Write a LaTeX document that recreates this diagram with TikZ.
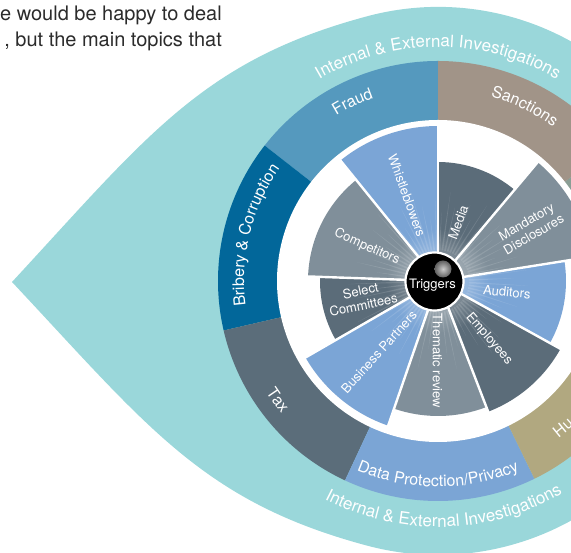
\documentclass[tikz,border=0pt]{standalone}
\usepackage{fontspec}
\setmainfont{TeX Gyre Heros}
\usetikzlibrary{decorations.text,fadings,calc}
\definecolor{tealC}{HTML}{9AD7DA}
\definecolor{fraudC}{HTML}{5599BE}
\definecolor{sanctC}{HTML}{A19488}
\definecolor{bribC}{HTML}{02679A}
\definecolor{taxC}{HTML}{5B6D7A}
\definecolor{dataC}{HTML}{7BA5D5}
\definecolor{khakiC}{HTML}{B1A880}
\definecolor{greenC}{HTML}{8A9E95}
\definecolor{rblue}{HTML}{7BA5D6}
\definecolor{rslate}{HTML}{5B6C79}
\definecolor{rgrey}{HTML}{808F9A}
\definecolor{bodytext}{HTML}{2B2B2B}
\tikzfading[name=glowfade, inner color=transparent!0, outer color=transparent!100]
\newcommand{\mysector}[4]{\fill[#1] (O) -- ++(#2:#4) arc[start angle=#2, end angle=#3, radius=#4] -- cycle;}
\tikzset{
  arctext/.style={decorate, decoration={text along path, text align=center, text={|\fontsize{16}{16}\selectfont\color{white}|#1}}},
  bigarctext/.style={decorate, decoration={text along path, text align=center, text={|\fontsize{17}{17}\selectfont\color{white}|#1}}},
  leftarctext/.style={decorate, decoration={text along path, text align=left, text={|\fontsize{16}{16}\selectfont\color{white}|#1}}},
  rosetext/.style={text=white, font=\fontsize{13}{14.5}\selectfont, align=center, inner sep=0pt},
  sepline/.style={white, line width=2.4pt},
  bodyline/.style={anchor=base east, text=bodytext, font=\fontsize{20}{24}\selectfont, inner sep=0pt}
}
\begin{document}
\begin{tikzpicture}[x=1pt,y=1pt]
\useasboundingbox (0,0) rectangle (571,553);
\coordinate (O) at (438,272);
\coordinate (tip) at (12,271);
% teal teardrop
\fill[tealC] (tip) .. controls (148,418) and (202.9,492.7) .. (367.1,536.7)
  arc[start angle=105, end angle=-105, radius=274]
  .. controls (202.9,51.3) and (148,126) .. (tip) -- cycle;
% topic ring
\mysector{fraudC}{90}{142}{220}
\mysector{bribC}{142}{193}{220}
\mysector{taxC}{193}{245}{220}
\mysector{dataC}{245}{296}{220}
\mysector{khakiC}{296}{360}{220}
\mysector{greenC}{0}{38}{220}
\mysector{sanctC}{38}{90}{220}
\fill[white] (O) circle (161);
% rose
\mysector{rblue}{90}{129}{155}
\mysector{rslate}{50}{90}{119}
\mysector{rgrey}{9}{50}{155}
\mysector{rblue}{-29}{9}{128}
\mysector{rslate}{-69}{-29}{140}
\mysector{rgrey}{-109}{-69}{135}
\mysector{rblue}{-150}{-109}{153}
\mysector{rslate}{-182}{-150}{118}
\mysector{rgrey}{129}{178}{130}
% rays
\foreach \a [count=\i] in {2,7,...,357} {
  \pgfmathsetmacro{\L}{62+28*mod(\i*7,5)/4}
  \fill[white, opacity=0.13] ($(O)+(\a-1.6:31)$) -- ($(O)+(\a:\L)$) -- ($(O)+(\a+1.6:31)$) -- cycle;
}
\fill[white, opacity=0.45, path fading=glowfade] (O) circle (52);
\foreach \a in {90,50,9,-29,-69,-109,-150,178,129} \draw[sepline] (O) -- ++(\a:160);
% centre
\node[circle, fill=black, draw=white, line width=2.2pt, minimum size=58pt, inner sep=0pt] (trig) at (434.5,271.5) {};
\shade[inner color=gray!40, outer color=gray!75!black] (443,284) circle (8.5);
\node[text=white, font=\fontsize{13}{13}\selectfont, inner sep=0pt] (trigtext) at (432.5,267.5) {Triggers};
% rose labels
\node[rosetext, rotate=-70] (wb) at (406.9,357.5) {Whistleblowers};
\node[rosetext, rotate=70] (media) at (458.2,330.6) {Media};
\node[rosetext, rotate=30] (mand) at (530,325) {Mandatory\\Disclosures};
\node[rosetext, rotate=-6] (aud) at (507,261) {Auditors};
\node[rosetext, rotate=-49] (emp) at (489,214) {Employees};
\node[rosetext, rotate=-90] (them) at (437.5,192) {Thematic review};
\node[rosetext, rotate=48] (bp) at (379,201) {Business Partners};
\node[rosetext, rotate=12] (sel) at (362,255) {Select\\Committees};
\node[rosetext, rotate=-24] (comp) at (367,306) {Competitors};
% ring labels
\path[bigarctext={Internal {\&} External Investigations}] ($(O)+(150:234)$) arc[start angle=150, end angle=30, radius=234];
\path[bigarctext={Internal {\&} External Investigations}] ($(O)+(211.5:246)$) arc[start angle=211.5, end angle=331.5, radius=246];
\path[arctext={Fraud}] ($(O)+(145.5:194)$) arc[start angle=145.5, end angle=85.5, radius=194];
\path[arctext={Sanctions}] ($(O)+(93.6:192)$) arc[start angle=93.6, end angle=33.6, radius=192];
\path[arctext={Bribery {\&} Corruption}] ($(O)+(196:194)$) arc[start angle=196, end angle=136, radius=194];
\path[arctext={Tax}] ($(O)+(186.6:205)$) arc[start angle=186.6, end angle=246.6, radius=205];
\path[arctext={Data Protection/Privacy}] ($(O)+(240:206)$) arc[start angle=240, end angle=300, radius=206];
\path[leftarctext={Hu}] ($(O)+(307.5:198)$) arc[start angle=307.5, end angle=347.5, radius=198];
% body text
\node[bodyline] (l1) at (222,532.3) {e would be happy to deal};
\node[bodyline] (l2) at (222,506.3) {, but the main topics that};
\end{tikzpicture}
\end{document}
